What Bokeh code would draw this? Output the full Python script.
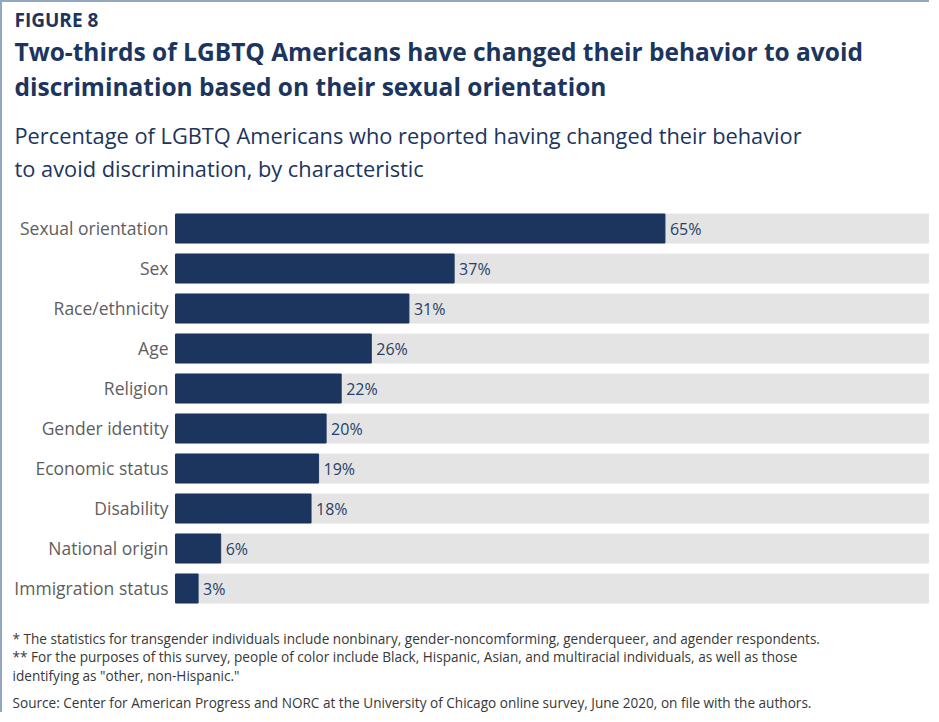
from bokeh.plotting import figure
from bokeh.models import Range1d, Label, ColumnDataSource
from bokeh.core.properties import value
from bokeh.embed import file_html
from bokeh.resources import INLINE

categories = ["Sexual orientation", "Sex", "Race/ethnicity", "Age", "Religion",
              "Gender identity", "Economic status", "Disability", "National origin",
              "Immigration status"]
values = [65, 37, 31, 26, 22, 20, 19, 18, 6, 3]
full_scale = [100] * len(categories)
value_labels = [f"{v}%" for v in values]

fig_label = "FIGURE 8"
title_lines = ["Two-thirds of LGBTQ Americans have changed their behavior to avoid",
               "discrimination based on their sexual orientation"]
subtitle_lines = ["Percentage of LGBTQ Americans who reported having changed their behavior",
                  "to avoid discrimination, by characteristic"]
notes = ["* The statistics for transgender individuals include nonbinary, gender-noncomforming, genderqueer, and agender respondents.",
         "** For the purposes of this survey, people of color include Black, Hispanic, Asian, and multiracial individuals, as well as those",
         "identifying as \"other, non-Hispanic.\"",
         "Source: Center for American Progress and NORC at the University of Chicago online survey, June 2020, on file with the authors."]

NAVY = "#1c355e"
GRAY_BG = "#e4e4e4"
FONT = "Open Sans"

n = len(categories)
ypos = [n - i - 0.5 for i in range(n)]  # category slots, top to bottom

src = ColumnDataSource(dict(cat=categories, y=ypos, val=values, full=full_scale, lab=value_labels))

# layout geometry (pixels) -> data ranges
W, H = 929, 712            # canvas size
OX, OY = 10, 10            # canvas origin in page pixels
X0_PX, X100_PX = 183, 936  # where 0 % and 100 % fall
BOTTOM_PX, SLOT_PX = 616, 40.0
PX_PER_X = (X100_PX - X0_PX) / 100.0

x_start = (OX - X0_PX) / PX_PER_X
x_end = (OX + W - X0_PX) / PX_PER_X
y_start = (BOTTOM_PX - (OY + H)) / SLOT_PX
y_end = (BOTTOM_PX - OY) / SLOT_PX

p = figure(width=W, height=H, output_backend="svg", toolbar_location=None,
           x_range=Range1d(x_start, x_end), y_range=Range1d(y_start, y_end),
           min_border=0, min_border_left=0, min_border_right=0,
           min_border_top=0, min_border_bottom=0,
           styles={"border-top": "2px solid #93a8c0", "border-left": "2px solid #93a8c0"})
p.axis.visible = False
p.grid.visible = False
p.outline_line_color = None

p.hbar(y="y", right="full", left=0, height=0.725, color=GRAY_BG, source=src)
p.hbar(y="y", right="val", left=0, height=0.725, color=NAVY, source=src)
p.text(x="val", y="y", text="lab", source=src, x_offset=5, text_baseline="middle",
       text_align="left", text_font=value(FONT), text_font_size="16px", text_color="#27406a")
p.text(x=0, y="y", text="cat", source=src, x_offset=-7, y_offset=-1, text_baseline="middle",
       text_align="right", text_font=value(FONT), text_font_size="17.5px", text_color="#5e5e5e")

def add_text(txt, x_px, baseline_px, size, color, bold=False):
    shift = 0.36 * size
    p.add_layout(Label(x=(x_px - X0_PX) / PX_PER_X, y=(BOTTOM_PX - (baseline_px - shift)) / SLOT_PX,
                       text=txt, text_font=FONT, text_font_size=f"{size}px", text_color=color,
                       text_font_style="bold" if bold else "normal",
                       text_baseline="alphabetic", text_align="left"))

add_text(fig_label, 22, 34, 19, NAVY, bold=True)
add_text(title_lines[0], 22, 68, 24.5, NAVY, bold=True)
add_text(title_lines[1], 22, 103, 24.5, NAVY, bold=True)
add_text(subtitle_lines[0], 22, 151, 21.8, NAVY)
add_text(subtitle_lines[1], 22, 184, 21.8, NAVY)
for t, b in zip(notes, [651, 669, 688, 715]):
    add_text(t, 20, b, 13.6, "#383838")

open("out.html", "w").write(file_html(p, INLINE))
